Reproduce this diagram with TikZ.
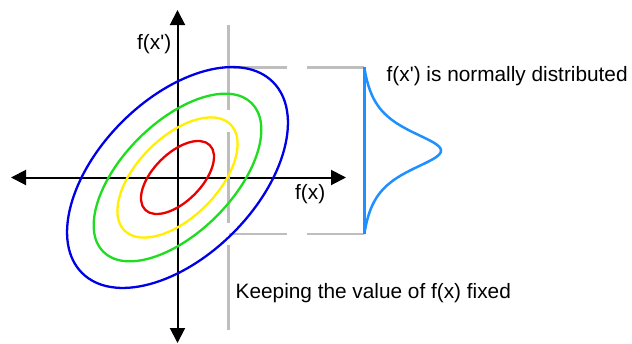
\documentclass[tikz,border=0pt]{standalone}
\usepackage{fontspec}
\setmainfont{Liberation Sans}
\usetikzlibrary{arrows.meta}
\definecolor{ellblue}{RGB}{0,0,230}
\definecolor{ellgreen}{RGB}{30,220,30}
\definecolor{ellyellow}{RGB}{255,240,0}
\definecolor{ellred}{RGB}{235,0,0}
\definecolor{pdfblue}{RGB}{30,144,255}
\definecolor{guidegray}{RGB}{190,190,190}
\begin{document}
\begin{tikzpicture}[x=1pt,y=-1pt,
  axis/.style={line width=2pt, {Triangle[length=15pt,width=15pt]}-{Triangle[length=15pt,width=15pt]}},
  contour/.style={line width=2.3pt},
  guideline/.style={guidegray, line width=2.5pt},
  pdfline/.style={pdfblue, line width=2.5pt},
  lbl/.style={inner sep=0pt, anchor=base west, font=\fontsize{20.8}{25}\selectfont}]
\useasboundingbox (0,0) rectangle (632,343);
% axes
\coordinate (O) at (177.5,177.5);
\coordinate (L) at (11,177.5);
\coordinate (R) at (346,177.5);
\coordinate (T) at (177.5,10);
\coordinate (B) at (177.5,343);
\draw[axis] (L) -- (R);
\draw[axis] (T) -- (B);
% guide lines
\coordinate (g1a) at (228.5,25);  \coordinate (g1b) at (228.5,110);
\coordinate (g2a) at (228.5,132); \coordinate (g2b) at (228.5,223);
\coordinate (g3a) at (228.5,245); \coordinate (g3b) at (228.5,330);
\coordinate (h1a) at (228.5,67.3); \coordinate (h1b) at (287,67.3);
\coordinate (h2a) at (307,67.3);   \coordinate (ptop) at (364.3,67.3);
\coordinate (h3a) at (228.5,234);  \coordinate (h3b) at (287,234);
\coordinate (h4a) at (307,234);    \coordinate (pbot) at (364.3,234);
\draw[guideline] (g1a) -- (g1b);
\draw[guideline] (g2a) -- (g2b);
\draw[guideline] (g3a) -- (g3b);
\draw[guideline] (h1a) -- (h1b);
\draw[guideline] (h2a) -- (ptop);
\draw[guideline] (h3a) -- (h3b);
\draw[guideline] (h4a) -- (pbot);
% contours
\draw[contour, ellblue, rotate around={45:(O)}] (O) ellipse [x radius=135, y radius=78.5];
\draw[contour, ellgreen, rotate around={45:(O)}] (O) ellipse [x radius=105, y radius=55];
\draw[contour, ellyellow, rotate around={45:(O)}] (O) ellipse [x radius=75, y radius=40];
\draw[contour, ellred, rotate around={45:(O)}] (O) ellipse [x radius=45.7, y radius=24];
% distribution
\draw[pdfline] (ptop) -- (pbot);
\draw[pdfline] plot[domain=-83.35:83.35, samples=161, smooth, variable=\d]
  ({364.3 + 76.7*(1/(1+(\d/26)^2) - 0.0888)/0.9112}, {150.65 + \d});
% labels
\node[lbl] (fxp) at (137,49) {f(x\textquotesingle)};
\node[lbl] (fx) at (295,199.5) {f(x)};
\node[lbl] (norm) at (386.5,81) {f(x\textquotesingle) is normally distributed};
\node[lbl] (keep) at (235.5,298) {Keeping the value of f(x) fixed};
\end{tikzpicture}
\end{document}
